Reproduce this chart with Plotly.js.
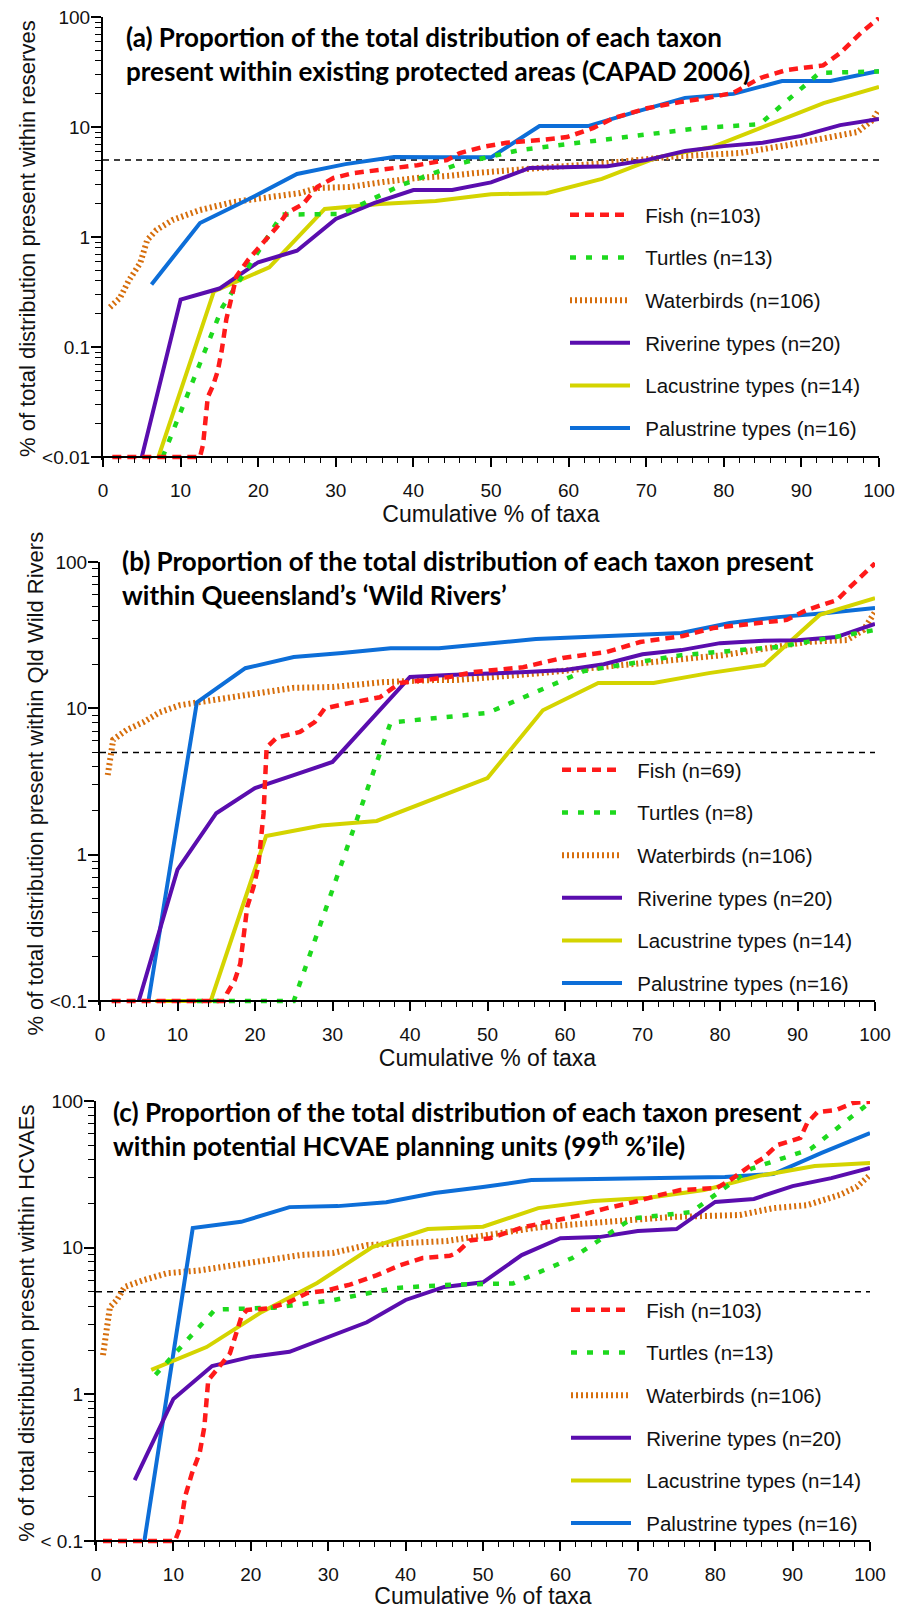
<!DOCTYPE html>
<html>
<head>
<meta charset="utf-8">
<script src="https://cdn.plot.ly/plotly-3.0.1.min.js"></script>
<style>
  html, body { margin: 0; padding: 0; background: #ffffff; }
  #chart { width: 897px; height: 1609px; }
</style>
</head>
<body>
<div id="chart"></div>
<script>
// ---------------- DATA ----------------
// Panel (a) – existing protected areas (CAPAD 2006)
const a_fish_x = [1.2, 12.5, 12.9, 13.5, 14.2, 14.8, 15.3, 15.9, 16.6, 17.2, 18.7, 20.6, 22.4, 23.7, 25.8, 27.6, 29.7, 32.2, 36.1, 40.5, 44.3, 46, 49, 52, 56.3, 59.8, 63.2, 65.7, 70.1, 74.4, 77.8, 81.2, 84.7, 88.1, 92.8, 95, 97.6, 100];
const a_fish_y = [0.01, 0.01, 0.013, 0.035, 0.045, 0.061, 0.093, 0.18, 0.29, 0.44, 0.62, 0.89, 1.23, 1.65, 2.0, 2.85, 3.44, 3.8, 4.07, 4.5, 5.0, 5.8, 6.6, 7.2, 7.6, 8.1, 9.8, 12, 14.8, 16.9, 18.3, 20.4, 27.9, 33, 36.3, 47, 71, 98];
const a_turt_x = [7.69, 15.38, 23.08, 30.77, 38.46, 46.15, 53.85, 61.54, 69.23, 76.92, 84.62, 92.31, 100];
const a_turt_y = [0.01, 0.23, 1.6, 1.62, 2.97, 4.7, 6.2, 7.2, 8.5, 9.8, 10.6, 31, 32];
const a_bird_x = [0.9, 2.2, 3.3, 4.8, 5.7, 6.9, 9, 12.5, 16.8, 21.1, 25.4, 27.6, 31.8, 36.1, 40.5, 44.7, 47.7, 56.3, 64.9, 73.5, 82.1, 88.5, 92.8, 97.2, 99.2, 100];
const a_bird_y = [0.23, 0.28, 0.4, 0.58, 0.94, 1.16, 1.43, 1.76, 2.08, 2.26, 2.51, 2.79, 2.85, 3.16, 3.44, 3.6, 3.8, 4.24, 4.7, 5.4, 5.8, 6.9, 7.9, 9, 11.6, 14.3];
const a_riv_x = [5, 10, 15, 20, 25, 30, 35, 40, 45, 50, 55, 60, 65, 70, 75, 80, 85, 90, 95, 100];
const a_riv_y = [0.01, 0.27, 0.34, 0.59, 0.75, 1.46, 2.04, 2.67, 2.67, 3.14, 4.24, 4.33, 4.4, 5.0, 6.05, 6.7, 7.2, 8.3, 10.4, 11.8];
const a_lac_x = [7.14, 14.29, 21.43, 28.57, 35.71, 42.86, 50, 57.14, 64.29, 71.43, 78.57, 85.71, 92.86, 100];
const a_lac_y = [0.01, 0.32, 0.53, 1.8, 2.0, 2.12, 2.45, 2.5, 3.37, 5.3, 6.6, 10.4, 16.5, 23.1];
const a_pal_x = [6.25, 12.5, 18.75, 25, 31.25, 37.5, 43.75, 50, 56.25, 62.5, 68.75, 75, 81.25, 87.5, 93.75, 100];
const a_pal_y = [0.37, 1.34, 2.2, 3.74, 4.6, 5.34, 5.3, 5.3, 10.2, 10.2, 13.8, 18.4, 20, 26.2, 26.2, 32.3];

// Panel (b) – Queensland's Wild Rivers
const b_fish_x = [1.5, 16, 16.4, 17.4, 18.1, 19, 19.8, 20.4, 21.1, 21.5, 22.8, 25.8, 27.7, 29, 32.3, 36.1, 38.7, 42.2, 45.2, 48.2, 54.6, 59.7, 65.4, 69.7, 75.2, 79.1, 84.8, 88.6, 91.2, 95.1, 96.8, 100];
const b_fish_y = [0.1, 0.1, 0.113, 0.139, 0.18, 0.44, 0.6, 0.82, 1.9, 5.4, 6.3, 6.9, 8.05, 10, 10.9, 11.9, 14.9, 15.6, 16.4, 17.7, 19.1, 22.1, 24.3, 28.4, 31.2, 35.4, 38.3, 40.2, 47, 55, 67.6, 98];
const b_turt_x = [12.5, 25, 37.5, 50, 62.5, 75, 87.5, 100];
const b_turt_y = [0.1, 0.1, 8.0, 9.3, 18, 23.1, 26.3, 34.3];
const b_bird_x = [1.0, 1.7, 3.4, 5.6, 7.7, 10.3, 14.6, 19, 24.9, 30.1, 36.5, 43, 46, 56.8, 65.4, 74, 80.4, 86.8, 91.2, 96.4, 98.5, 100];
const b_bird_y = [3.5, 6.1, 7.1, 8.05, 9.4, 10.5, 11.4, 12.3, 13.8, 14.0, 15.1, 15.6, 15.6, 17.4, 19.1, 21.4, 23.1, 26.3, 28.4, 29.3, 34.3, 45.5];
const b_riv_x = [5, 10, 15, 20, 25, 30, 35, 40, 45, 50, 55, 60, 65, 70, 75, 80, 85, 90, 95, 100];
const b_riv_y = [0.1, 0.79, 1.92, 2.85, 3.5, 4.3, 8.4, 16.4, 16.9, 17.2, 17.7, 18.3, 20, 23.4, 25, 27.9, 28.9, 29.2, 30.7, 37.7];
const b_lac_x = [7.14, 14.29, 21.43, 28.57, 35.71, 42.86, 50, 57.14, 64.29, 71.43, 78.57, 85.71, 92.86, 100];
const b_lac_y = [0.1, 0.1, 1.34, 1.58, 1.7, 2.4, 3.34, 9.7, 14.9, 14.9, 17.4, 19.8, 43.5, 56.7];
const b_pal_x = [6.25, 12.5, 18.75, 25, 31.25, 37.5, 43.75, 50, 56.25, 62.5, 68.75, 75, 81.25, 87.5, 93.75, 100];
const b_pal_y = [0.1, 11, 18.8, 22.4, 23.9, 25.7, 25.7, 27.5, 29.8, 30.7, 31.7, 32.7, 38.3, 42, 44.9, 48.5];

// Panel (c) – potential HCVAE planning units (99th %'ile)
const c_fish_x = [0.9, 10.2, 10.9, 11.5, 12.4, 13.4, 14, 14.5, 15.6, 17.3, 18.8, 19.5, 22.1, 24.7, 27.3, 29.8, 32.8, 36.3, 39.3, 42.2, 45.7, 46.6, 48.3, 50.9, 55.2, 58.7, 62.5, 66, 69.4, 72.9, 75.5, 80.2, 81.9, 84.1, 86.2, 88, 91, 91.9, 93.2, 95.7, 97.8, 100];
const c_fish_y = [0.1, 0.1, 0.125, 0.2, 0.29, 0.4, 0.6, 1.25, 1.47, 1.9, 3.4, 3.76, 3.85, 4.2, 4.9, 5.1, 5.6, 6.5, 7.6, 8.5, 8.8, 9.2, 11.2, 11.6, 13.8, 15, 16.6, 18.6, 20.4, 22.9, 24.7, 25.5, 28.8, 34.9, 40.8, 50, 56, 71, 84, 87, 97, 99];
const c_turt_x = [7.69, 15.38, 23.08, 30.77, 38.46, 46.15, 53.85, 61.54, 69.23, 76.92, 84.62, 92.31, 100];
const c_turt_y = [1.36, 3.78, 3.9, 4.4, 5.3, 5.6, 5.7, 8.5, 15.8, 17.5, 34.5, 47, 98];
const c_bird_x = [0.9, 1.4, 1.8, 2.7, 3.7, 6.1, 9.2, 13.4, 17.7, 22.1, 26.4, 30.6, 35, 39.3, 45.3, 48.7, 57.4, 66, 74.5, 83.2, 87.5, 91.9, 96.1, 98.3, 100];
const c_bird_y = [1.85, 2.88, 3.94, 4.4, 5.4, 6.0, 6.7, 7.0, 7.6, 8.2, 8.9, 9.2, 10.4, 10.7, 11.1, 11.8, 13.8, 15, 16.2, 16.7, 18.6, 19.5, 22.9, 26, 31.3];
const c_riv_x = [5, 10, 15, 20, 25, 30, 35, 40, 45, 50, 55, 60, 65, 70, 75, 80, 85, 90, 95, 100];
const c_riv_y = [0.26, 0.93, 1.56, 1.8, 1.95, 2.45, 3.1, 4.4, 5.4, 5.8, 8.9, 11.6, 11.8, 13, 13.4, 20.5, 21.5, 26.3, 29.8, 34.9];
const c_lac_x = [7.14, 14.29, 21.43, 28.57, 35.71, 42.86, 50, 57.14, 64.29, 71.43, 78.57, 85.71, 92.86, 100];
const c_lac_y = [1.47, 2.1, 3.65, 5.75, 10.1, 13.4, 13.9, 18.6, 20.8, 21.9, 24.7, 30.9, 36, 37.8];
const c_pal_x = [6.25, 12.5, 18.75, 25, 31.25, 37.5, 43.75, 50, 56.25, 62.5, 68.75, 75, 81.25, 87.5, 93.75, 100];
const c_pal_y = [0.1, 13.6, 15, 18.9, 19.2, 20.4, 23.6, 25.9, 28.9, 29.2, 29.4, 29.9, 30.3, 31.8, 44.3, 60.5];

// Legend labels
const a_names = ['Fish (n=103)', 'Turtles (n=13)', 'Waterbirds (n=106)', 'Riverine types (n=20)', 'Lacustrine types (n=14)', 'Palustrine types (n=16)'];
const b_names = ['Fish (n=69)', 'Turtles (n=8)', 'Waterbirds (n=106)', 'Riverine types (n=20)', 'Lacustrine types (n=14)', 'Palustrine types (n=16)'];
const c_names = ['Fish (n=103)', 'Turtles (n=13)', 'Waterbirds (n=106)', 'Riverine types (n=20)', 'Lacustrine types (n=14)', 'Palustrine types (n=16)'];

// Tick labels
const a_tickvals = [0.01, 0.1, 1, 10, 100];
const a_ticktext = ['<0.01', '0.1', '1', '10', '100'];
const b_tickvals = [0.1, 1, 10, 100];
const b_ticktext = ['<0.1', '1', '10', '100'];
const c_tickvals = [0.1, 1, 10, 100];
const c_ticktext = ['< 0.1', '1', '10', '100'];
const threshold = 5;

// ---------------- STYLES ----------------
const styles = [
  {color: '#FF1A1A', width: 4.5, dash: '9px,6px'},   // Fish
  {color: '#1ED91E', width: 4.5, dash: '6px,10px'},  // Turtles
  {color: '#D66E0C', width: 6,   dash: '2px,3px'},   // Waterbirds
  {color: '#5A0DAE', width: 4,   dash: 'solid'},     // Riverine
  {color: '#D4D400', width: 4,   dash: 'solid'},     // Lacustrine
  {color: '#0D6ED8', width: 4,   dash: 'solid'}      // Palustrine
];

const panels = [
  {id: 'a', xa: 'x',  ya: 'y',  legend: 'legend',  names: a_names,
   xs: [a_fish_x, a_turt_x, a_bird_x, a_riv_x, a_lac_x, a_pal_x],
   ys: [a_fish_y, a_turt_y, a_bird_y, a_riv_y, a_lac_y, a_pal_y]},
  {id: 'b', xa: 'x2', ya: 'y2', legend: 'legend2', names: b_names,
   xs: [b_fish_x, b_turt_x, b_bird_x, b_riv_x, b_lac_x, b_pal_x],
   ys: [b_fish_y, b_turt_y, b_bird_y, b_riv_y, b_lac_y, b_pal_y]},
  {id: 'c', xa: 'x3', ya: 'y3', legend: 'legend3', names: c_names,
   xs: [c_fish_x, c_turt_x, c_bird_x, c_riv_x, c_lac_x, c_pal_x],
   ys: [c_fish_y, c_turt_y, c_bird_y, c_riv_y, c_lac_y, c_pal_y]}
];

const traces = [];
panels.forEach(p => {
  // draw order: waterbirds, palustrine, lacustrine, riverine, turtles, fish (legend order kept via legendrank)
  const order = [2, 5, 4, 3, 1, 0];
  order.forEach(i => {
    traces.push({
      type: 'scatter', mode: 'lines',
      x: p.xs[i], y: p.ys[i],
      xaxis: p.xa, yaxis: p.ya,
      name: '\u2002' + p.names[i],
      legend: p.legend,
      legendgroup: p.id + i,
      legendrank: i + 1,
      line: {color: styles[i].color, width: styles[i].width, dash: styles[i].dash},
      hoverinfo: 'x+y+name'
    });
  });
});

// ---------------- LAYOUT ----------------
const W = 897, H = 1609;
const px = v => v / W;
const py = v => 1 - v / H;
const FONT = 'Liberation Sans, Arial, Helvetica, sans-serif';

function xAxis(l, r, posPx) {
  return {
    domain: [px(l), px(r)], range: [0, 100], anchor: 'free', position: py(posPx),
    showline: true, linecolor: '#000', linewidth: 2, mirror: false,
    showgrid: false, zeroline: false,
    ticks: 'outside', ticklen: 9, tickwidth: 1.5, tickcolor: '#000',
    tickmode: 'linear', tick0: 0, dtick: 10,
    minor: {dtick: 2, tick0: 0, ticks: 'outside', ticklen: 5, tickwidth: 1.2, tickcolor: '#000', showgrid: false},
    tickfont: {family: FONT, size: 19, color: '#111'},
    ticklabelstandoff: 7,
    title: {text: 'Cumulative % of taxa', font: {family: FONT, size: 23, color: '#111'}, standoff: 2},
    fixedrange: true
  };
}
function minorVals(lo, hi) {
  const out = [];
  for (let d = lo; d < hi; d++) {
    for (let k = 2; k <= 9; k++) out.push(k * Math.pow(10, d));
  }
  return out;
}
function yAxis(top, bot, rlo, tv, tt, title, anchorX) {
  return {
    domain: [py(bot), py(top)], type: 'log', range: [rlo, 2], anchor: anchorX,
    showline: true, linecolor: '#000', linewidth: 2,
    showgrid: false, zeroline: false,
    tickmode: 'array', tickvals: tv, ticktext: tt,
    ticks: 'outside', ticklen: 10, tickwidth: 1.5, tickcolor: '#000',
    minor: {tickmode: 'array', tickvals: minorVals(Math.round(rlo), 2), ticks: 'outside', ticklen: 6, tickwidth: 1.2, tickcolor: '#000', showgrid: false},
    tickfont: {family: FONT, size: 19, color: '#111'},
    ticklabelstandoff: -3,
    title: {text: title, font: {family: FONT, size: 22, color: '#111'}, standoff: 0},
    fixedrange: true
  };
}

const legendBase = {
  xanchor: 'left', yanchor: 'top', bgcolor: 'rgba(0,0,0,0)', borderwidth: 0,
  font: {family: FONT, size: 20.5, color: '#111'},
  itemwidth: 60, tracegroupgap: 13, traceorder: 'grouped',
  itemclick: false, itemdoubleclick: false
};

const titleFont = {family: 'Lato, Open Sans, sans-serif', size: 26, color: '#000', weight: 700};

const layout = {
  width: W, height: H,
  margin: {l: 0, r: 0, t: 0, b: 0, pad: 0},
  paper_bgcolor: '#ffffff', plot_bgcolor: 'rgba(0,0,0,0)',
  showlegend: true,
  xaxis:  xAxis(103, 879, 457),
  yaxis:  yAxis(17, 460.3, -2.03, a_tickvals, a_ticktext, '% of total distribution present within reserves', 'x'),
  xaxis2: xAxis(100, 875, 1001),
  yaxis2: yAxis(562, 1005.4, -1.03, b_tickvals, b_ticktext, '% of total distribution present within Qld Wild Rivers', 'x2'),
  xaxis3: xAxis(96, 870, 1541),
  yaxis3: yAxis(1101, 1545.4, -1.03, c_tickvals, c_ticktext, '% of total distribution present within HCVAEs', 'x3'),
  legend:  Object.assign({}, legendBase, {x: px(565), y: py(195)}),
  legend2: Object.assign({}, legendBase, {x: px(557), y: py(750)}),
  legend3: Object.assign({}, legendBase, {x: px(566), y: py(1290)}),
  shapes: [
    {type: 'line', xref: 'x',  yref: 'y',  x0: 0, x1: 100, y0: threshold, y1: threshold, layer: 'below', line: {color: '#000', width: 1.5, dash: '6px,5px'}},
    {type: 'line', xref: 'x2', yref: 'y2', x0: 0, x1: 100, y0: threshold, y1: threshold, layer: 'below', line: {color: '#000', width: 1.5, dash: '6px,5px'}},
    {type: 'line', xref: 'x3', yref: 'y3', x0: 0, x1: 100, y0: threshold, y1: threshold, layer: 'below', line: {color: '#000', width: 1.5, dash: '6px,5px'}}
  ],
  annotations: [
    {xref: 'paper', yref: 'paper', x: px(124), y: py(19), xanchor: 'left', yanchor: 'top', align: 'left', showarrow: false,
     text: '(a) Proportion of the total distribution of each taxon<br>present within existing protected areas (CAPAD 2006)', font: titleFont},
    {xref: 'paper', yref: 'paper', x: px(120), y: py(543), xanchor: 'left', yanchor: 'top', align: 'left', showarrow: false,
     text: '(b) Proportion of the total distribution of each taxon present<br>within Queensland\u2019s \u2018Wild Rivers\u2019', font: titleFont},
    {xref: 'paper', yref: 'paper', x: px(111), y: py(1094), xanchor: 'left', yanchor: 'top', align: 'left', showarrow: false,
     text: '(c) Proportion of the total distribution of each taxon present<br>within potential HCVAE planning units (99<sup>th</sup> %\u2019ile)', font: titleFont}
  ]
};

Plotly.newPlot('chart', traces, layout, {displayModeBar: false, responsive: false});
</script>
</body>
</html>
